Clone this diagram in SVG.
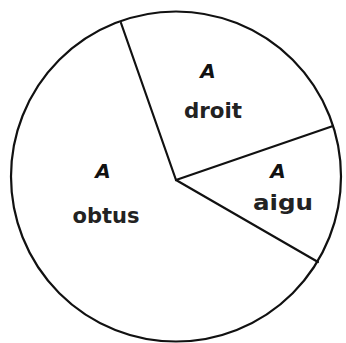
<svg xmlns="http://www.w3.org/2000/svg" width="346" height="343" viewBox="0 0 346 343">
<style>
.l{fill:none;stroke:#111;stroke-width:2.2;stroke-linecap:round}
.a{font-family:"DejaVu Sans",sans-serif;font-style:italic;font-weight:bold;font-size:20px;fill:#111;text-anchor:middle}
.t{font-family:"DejaVu Sans Condensed","DejaVu Sans",sans-serif;font-weight:bold;font-size:21px;fill:#222;text-anchor:middle}
</style>
<rect width="346" height="343" fill="#fff"/>
<g id="circle"><circle class="l" cx="176" cy="176.5" r="165"/></g>
<g id="connectors">
<line class="l" x1="176" y1="180" x2="121" y2="23"/>
<line class="l" x1="176" y1="180" x2="333" y2="126"/>
<line class="l" x1="176" y1="180" x2="318" y2="262"/>
</g>
<g id="droit"><text class="a" x="208" y="78">A</text><text class="t" x="213" y="118" textLength="58" lengthAdjust="spacingAndGlyphs">droit</text></g>
<g id="aigu"><text class="a" x="278" y="178">A</text><text class="t" x="283" y="210" textLength="60" lengthAdjust="spacingAndGlyphs">aigu</text></g>
<g id="obtus"><text class="a" x="103" y="178">A</text><text class="t" x="106" y="223" textLength="67" lengthAdjust="spacingAndGlyphs">obtus</text></g>
</svg>
